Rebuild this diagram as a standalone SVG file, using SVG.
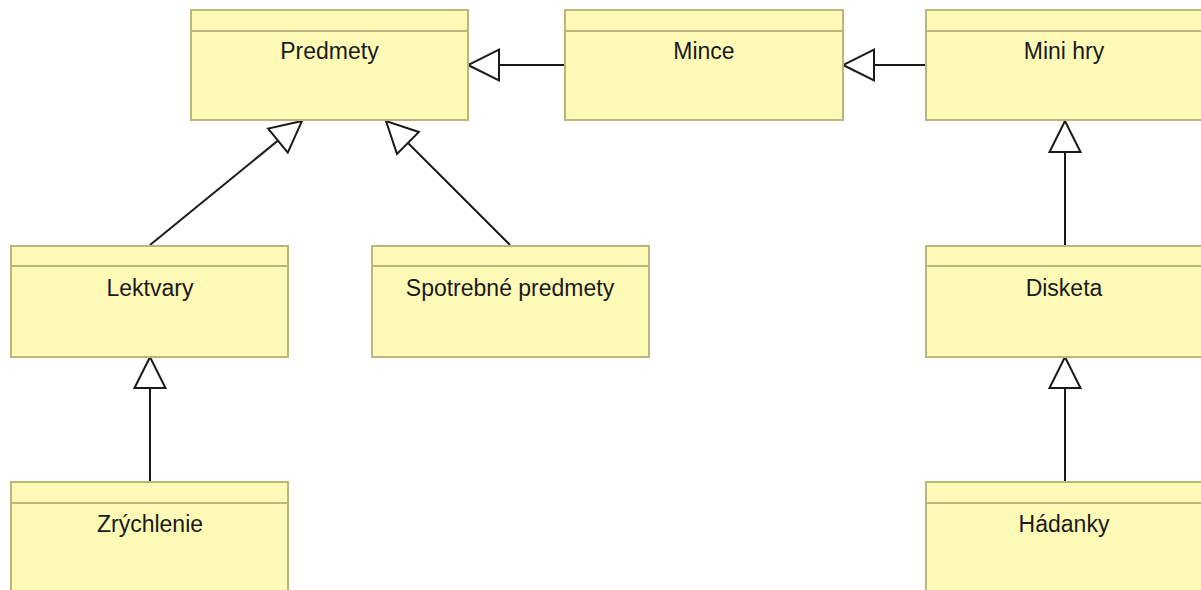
<svg xmlns="http://www.w3.org/2000/svg" width="1201" height="590" viewBox="0 0 1201 590">
<style>
.box{fill:#fffbb6;stroke:#b9b77c;stroke-width:2}
.div{stroke:#b9b77c;stroke-width:2}
.lbl{font-family:"Liberation Sans",Arial,sans-serif;font-size:23px;fill:#1a1a1a;text-anchor:middle}
.edge{stroke:#1a1a1a;stroke-width:2;fill:none;marker-end:url(#gen)}
</style>
<defs>
<marker id="gen" markerUnits="userSpaceOnUse" viewBox="-34 -18 36 36" markerWidth="36" markerHeight="36" refX="0" refY="0" orient="auto">
<path d="M0,0 L-31,-15.5 L-31,15.5 Z" fill="#fff" stroke="#1a1a1a" stroke-width="2"/>
</marker>
</defs>
<rect width="1201" height="590" fill="#fff"/>
<g id="connectors">
<line class="edge" x1="565" y1="65" x2="468" y2="65"/>
<line class="edge" x1="926" y1="65" x2="843" y2="65"/>
<line class="edge" x1="1065" y1="246" x2="1065" y2="121"/>
<line class="edge" x1="1065" y1="482" x2="1065" y2="357"/>
<line class="edge" x1="150" y1="482" x2="150" y2="357"/>
<line class="edge" x1="150" y1="245" x2="302" y2="121"/>
<line class="edge" x1="510" y1="245" x2="386" y2="121"/>
</g>
<g id="predmety"><rect class="box" x="191" y="10" width="277" height="110"/><line class="div" x1="191" y1="31" x2="468" y2="31"/><text class="lbl" x="329.5" y="59">Predmety</text></g>
<g id="mince"><rect class="box" x="565" y="10" width="278" height="110"/><line class="div" x1="565" y1="31" x2="843" y2="31"/><text class="lbl" x="704" y="59">Mince</text></g>
<g id="mini-hry"><rect class="box" x="926" y="10" width="280" height="110"/><line class="div" x1="926" y1="31" x2="1206" y2="31"/><text class="lbl" x="1064" y="59">Mini hry</text></g>
<g id="lektvary"><rect class="box" x="11" y="246" width="277" height="111"/><line class="div" x1="11" y1="266" x2="288" y2="266"/><text class="lbl" x="150" y="296">Lektvary</text></g>
<g id="spotrebne"><rect class="box" x="372" y="246" width="277" height="111"/><line class="div" x1="372" y1="266" x2="649" y2="266"/><text class="lbl" x="510" y="296">Spotrebné predmety</text></g>
<g id="disketa"><rect class="box" x="926" y="246" width="280" height="111"/><line class="div" x1="926" y1="266" x2="1206" y2="266"/><text class="lbl" x="1064" y="296">Disketa</text></g>
<g id="zrychlenie"><rect class="box" x="11" y="482" width="277" height="120"/><line class="div" x1="11" y1="503" x2="288" y2="503"/><text class="lbl" x="150" y="532">Zrýchlenie</text></g>
<g id="hadanky"><rect class="box" x="926" y="482" width="280" height="120"/><line class="div" x1="926" y1="503" x2="1206" y2="503"/><text class="lbl" x="1064" y="532">Hádanky</text></g>
</svg>
